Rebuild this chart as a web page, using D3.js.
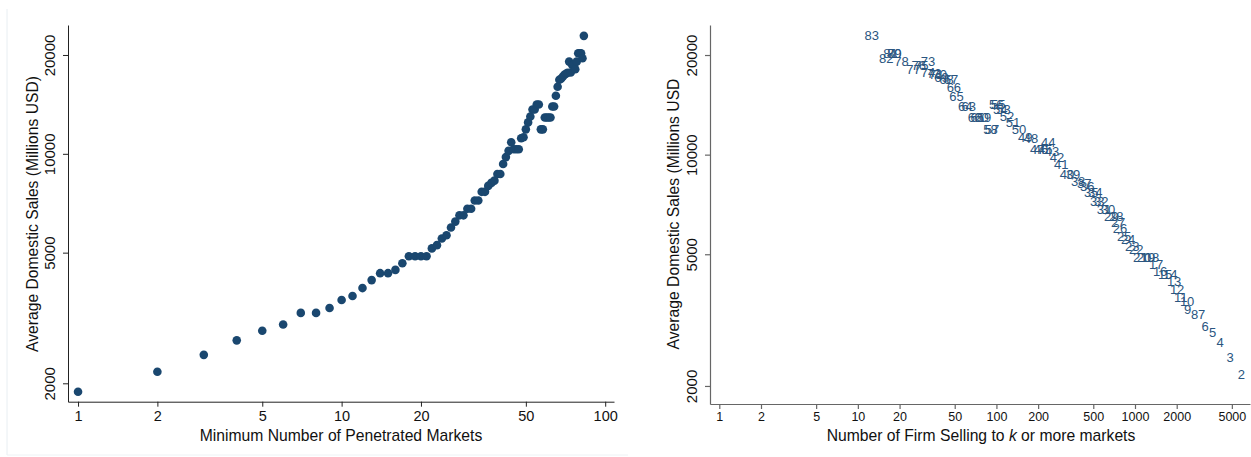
<!DOCTYPE html>
<html>
<head>
<meta charset="utf-8">
<script src="https://cdn.jsdelivr.net/npm/d3@7"></script>
<style>
  body { margin: 0; background: #fff; }
  text { font-family: "Liberation Sans", Arial, Helvetica, sans-serif; }
</style>
</head>
<body>
<svg id="chart" width="1251" height="457"></svg>
<script>
// k = minimum number of penetrated markets
var markets = [1,2,3,4,5,6,7,8,9,10,11,12,13,14,15,16,17,18,19,20,
  21,22,23,24,25,26,27,28,29,30,31,32,33,34,35,36,37,38,39,40,
  41,42,43,44,45,46,47,48,49,50,51,52,53,54,55,56,57,58,59,60,
  61,62,63,64,65,66,67,68,69,70,71,72,73,74,75,76,77,78,79,80,81,82,83];

// average domestic sales (millions USD) of firms selling to k or more markets
var avgSales = [1886,2170,2442,2703,2892,3021,3277,3277,3393,3588,3689,3900,4124,4330,4330,4430,4642,4873,4873,4873,
  4873,5152,5271,5523,5651,5962,6216,6496,6496,6805,6805,7210,7210,7660,7660,7986,8155,8286,8680,8680,
  9307,9771,10209,10845,10329,10329,10329,11152,11229,11871,12465,12995,13644,13644,14126,14126,11871,11871,12906,12906,
  12906,12906,13933,13933,15033,16008,16809,16926,17161,17404,17525,17647,19091,17683,18655,18655,18106,19091,20235,20235,20235,19545,22874];

// number of firms selling to k or more markets (k = 1 falls outside the plotted range)
var firmCount = [null,5434,4505,3815,3357,2974,2797,2490,2216,2074,1877,1756,1671,1564,1439,1324,1239,1159,1085,1015,
  950,889,832,778,728,681,659,638,587,558,522,497,465,450,421,394,375,339,312,282,
  256,239,220,206,196,183,172,155,141,127,115,104,98,93,90,87,81,79,71,68,
  64,61,55,52,45,43,41,38,35,34,32,31,28,28,25,24,22,18,16,16,15,14,11];

var leftXTicks = [1,2,5,10,20,50,100];
var yTicks = [2000,5000,10000,20000];
var rightXTicks = [1,2,5,10,20,50,100,200,500,1000,2000,5000];

var navy = "#1a476f";
var svg = d3.select("#chart");

var rows = markets.map(function (k, i) {
    return { k: k, sales: avgSales[i], firms: firmCount[i] };
});

// faint frame of the left graph
svg.append("line").attr("x1", 7).attr("x2", 7).attr("y1", 9).attr("y2", 455)
    .attr("stroke", "#e8eef2").attr("stroke-width", 1);
svg.append("line").attr("x1", 7).attr("x2", 628).attr("y1", 455).attr("y2", 455)
    .attr("stroke", "#eef2f5").attr("stroke-width", 1);

// ---------- left panel ----------
var xL = d3.scaleLog().domain([0.916, 108]).range([68, 614]);
var yL = d3.scaleLog().domain([1758, 24680]).range([401.7, 25]);

var gxL = svg.append("g")
    .attr("transform", "translate(0,401.7)")
    .call(d3.axisBottom(xL).tickValues(leftXTicks).tickSize(5).tickSizeOuter(0).tickPadding(4)
        .tickFormat(d3.format("d")));
gxL.selectAll("text").style("font-size", "14.5px").attr("fill", "#111");
gxL.selectAll("line,path").attr("stroke", "#222");

var gyL = svg.append("g")
    .attr("transform", "translate(68,0)")
    .call(d3.axisLeft(yL).tickValues(yTicks).tickSize(5).tickSizeOuter(0)
        .tickFormat(d3.format("d")));
gyL.selectAll("line,path").attr("stroke", "#222");
gyL.selectAll("text")
    .style("font-size", "15px").attr("fill", "#111")
    .attr("text-anchor", "middle")
    .attr("dy", null).attr("x", null)
    .attr("transform", "translate(-13,0) rotate(-90)")
    .attr("dominant-baseline", "auto");

svg.append("text")
    .attr("x", 341).attr("y", 441)
    .attr("text-anchor", "middle")
    .style("font-size", "15.7px").attr("fill", "#111")
    .text("Minimum Number of Penetrated Markets");

svg.append("text")
    .attr("transform", "translate(38,214) rotate(-90)")
    .attr("text-anchor", "middle")
    .style("font-size", "15.7px").attr("fill", "#111")
    .text("Average Domestic Sales (Millions USD)");

svg.append("g")
    .selectAll("circle")
    .data(rows)
    .enter()
    .append("circle")
    .attr("cx", function (d) { return xL(d.k); })
    .attr("cy", function (d) { return yL(d.sales); })
    .attr("r", 4.3)
    .attr("fill", navy);

// ---------- right panel ----------
var xR = d3.scaleLog().domain([0.857, 6760]).range([710, 1250]);
var yR = d3.scaleLog().domain([1764, 24645]).range([404, 25]);

var gxR = svg.append("g")
    .attr("transform", "translate(0,404)")
    .call(d3.axisBottom(xR).tickValues(rightXTicks).tickSize(5).tickSizeOuter(0).tickPadding(3)
        .tickFormat(d3.format("d")));
gxR.selectAll("text").style("font-size", "12.5px").attr("fill", "#111");
gxR.selectAll("line,path").attr("stroke", "#666").attr("stroke-width", 1.2);

var gyR = svg.append("g")
    .attr("transform", "translate(710,0)")
    .call(d3.axisLeft(yR).tickValues(yTicks).tickSize(5).tickSizeOuter(0)
        .tickFormat(d3.format("d")));
gyR.selectAll("line,path").attr("stroke", "#666").attr("stroke-width", 1.2);
gyR.selectAll("text")
    .style("font-size", "15px").attr("fill", "#111")
    .attr("text-anchor", "middle")
    .attr("dy", null).attr("x", null)
    .attr("transform", "translate(-13,0) rotate(-90)")
    .attr("dominant-baseline", "auto");

var xTitle = svg.append("text")
    .attr("x", 981).attr("y", 441)
    .attr("text-anchor", "middle")
    .style("font-size", "15.7px").attr("fill", "#111");
xTitle.append("tspan").text("Number of Firm Selling to ");
xTitle.append("tspan").style("font-style", "italic").text("k");
xTitle.append("tspan").text(" or more markets");

svg.append("text")
    .attr("transform", "translate(679,214) rotate(-90)")
    .attr("text-anchor", "middle")
    .style("font-size", "15.7px").attr("fill", "#111")
    .text("Average Domestic Sales (Millions USD");

svg.append("g")
    .selectAll("text")
    .data(rows.filter(function (d) { return d.firms != null; }))
    .enter()
    .append("text")
    .attr("x", function (d) { return xR(d.firms) + 1; })
    .attr("y", function (d) { return yR(d.sales); })
    .attr("dominant-baseline", "central")
    .style("font-size", "13px")
    .attr("fill", "#2a5580")
    .text(function (d) { return d.k; });
</script>
</body>
</html>
